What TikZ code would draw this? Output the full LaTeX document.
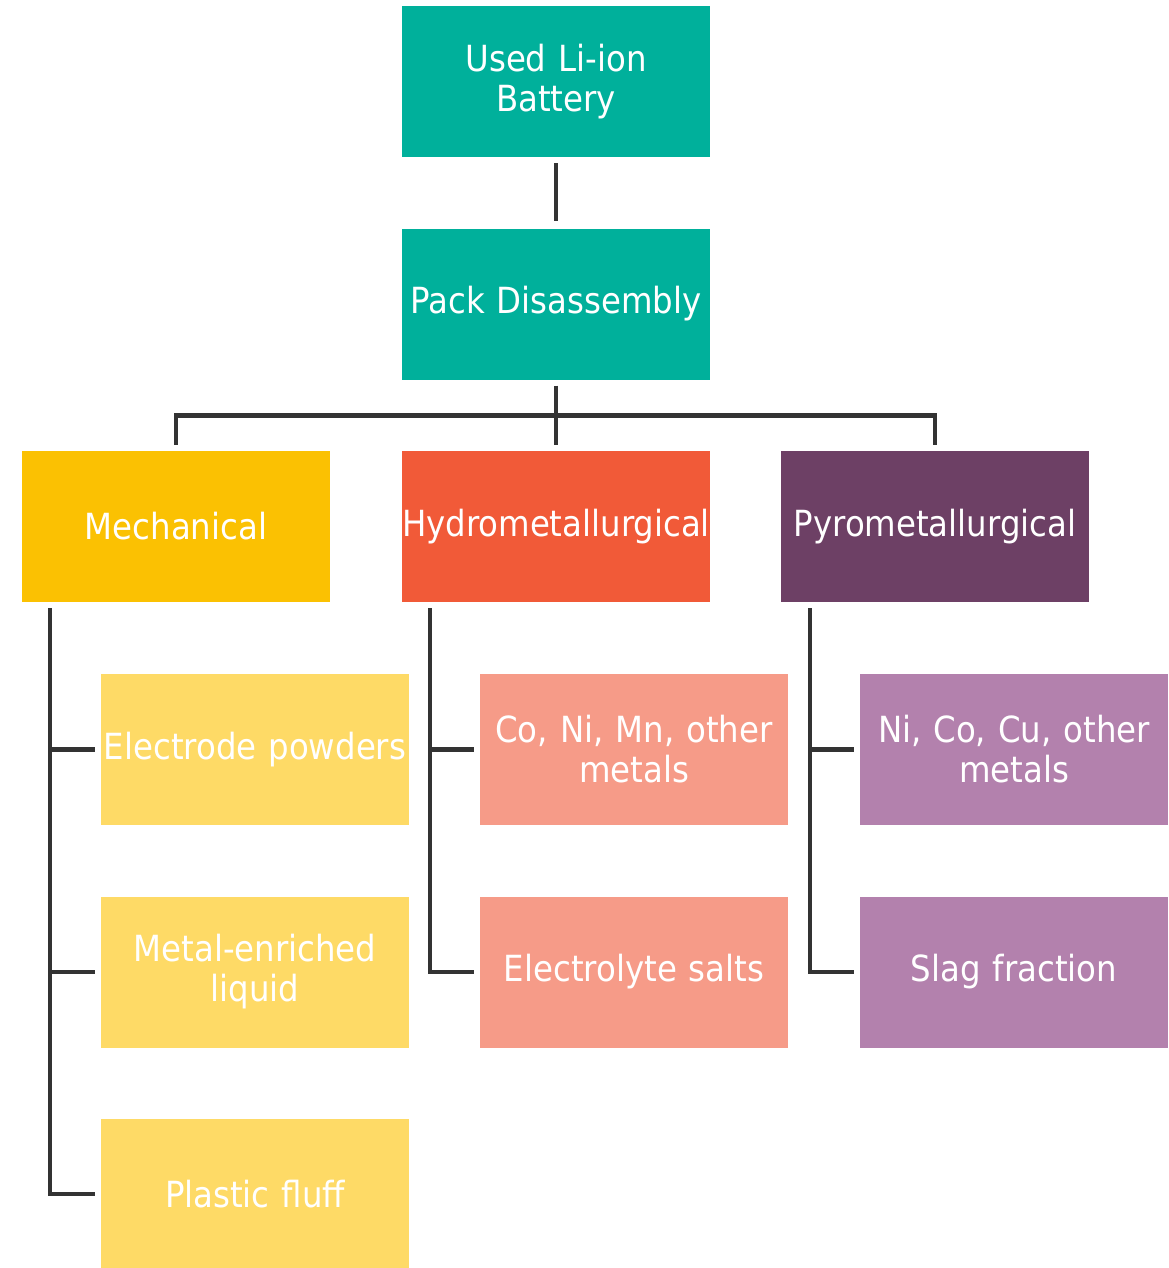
\documentclass[tikz,border=0pt]{standalone}
\usepackage{fontspec}
\setmainfont{DejaVu Sans Condensed}
\definecolor{teal1}{HTML}{00B09B}
\definecolor{mechc}{HTML}{FBC102}
\definecolor{hydroc}{HTML}{F15A38}
\definecolor{pyroc}{HTML}{6D4065}
\definecolor{mechl}{HTML}{FEDA66}
\definecolor{hydrol}{HTML}{F69B88}
\definecolor{pyrol}{HTML}{B381AD}
\definecolor{linec}{HTML}{333333}
\tikzset{
  box/.style={rectangle, minimum width=308pt, text width=308pt, minimum height=151pt, inner sep=0pt,
    text=white, align=center, font=\fontsize{36}{40}\selectfont},
  conn/.style={draw=linec, line width=4.5pt}
}
\hfuzz=50pt
\begin{document}
\begin{tikzpicture}[x=1pt,y=-1pt]
\useasboundingbox (0,0) rectangle (1168,1268);
\node[box, fill=teal1] (used) at (556,81.5) {Used Li-ion\\Battery};
\node[box, fill=teal1] (pack) at (556,304) {Pack Disassembly};
\node[box, fill=mechc] (mech) at (176,526.5) {Mechanical};
\node[box, fill=hydroc] (hydro) at (556,526.5) {Hydrometallurgical};
\node[box, fill=pyroc] (pyro) at (935,526.5) {Pyrometallurgical};
\node[box, fill=mechl] (elec) at (255,749.5) {Electrode powders};
\node[box, fill=mechl] (metal) at (255,972) {Metal-enriched\\liquid};
\node[box, fill=mechl] (plastic) at (255,1194) {Plastic fluff};
\node[box, fill=hydrol] (conimn) at (634,749.5) {Co, Ni, Mn, other\\metals};
\node[box, fill=hydrol] (salts) at (634,972) {Electrolyte salts};
\node[box, fill=pyrol] (nicocu) at (1014,749.5) {Ni, Co, Cu, other\\metals};
\node[box, fill=pyrol] (slag) at (1014,972) {Slag fraction};
% connectors
\draw[conn] ([yshift=-6pt]used.south) -- ([yshift=7pt]pack.north);
\draw[conn] ([yshift=-6pt]pack.south) -- ([yshift=6pt]hydro.north);
\draw[conn] ([yshift=6pt]mech.north) |- ([yshift=-36pt]pack.south) -| ([yshift=6pt]pyro.north);
\draw[conn] ([xshift=28pt,yshift=-6pt]mech.south west) |- ([xshift=-6pt]plastic.west);
\draw[conn] ([xshift=28pt]mech.south west |- elec.west) -- ([xshift=-6pt]elec.west);
\draw[conn] ([xshift=28pt]mech.south west |- metal.west) -- ([xshift=-6pt]metal.west);
\draw[conn] ([xshift=28pt,yshift=-6pt]hydro.south west) |- ([xshift=-6pt]salts.west);
\draw[conn] ([xshift=28pt]hydro.south west |- conimn.west) -- ([xshift=-6pt]conimn.west);
\draw[conn] ([xshift=29pt,yshift=-6pt]pyro.south west) |- ([xshift=-6pt]slag.west);
\draw[conn] ([xshift=29pt]pyro.south west |- nicocu.west) -- ([xshift=-6pt]nicocu.west);
\end{tikzpicture}
\end{document}
